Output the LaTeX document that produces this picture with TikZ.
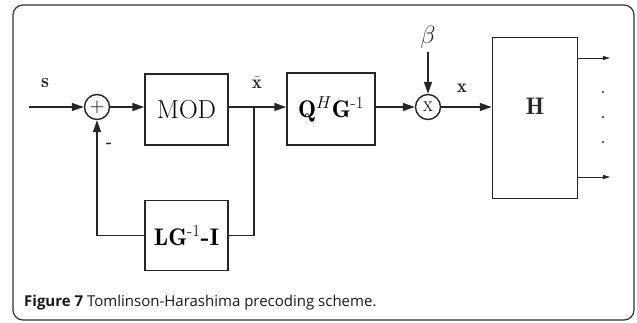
\documentclass[tikz,border=0pt]{standalone}
\usepackage{amsmath}
\usepackage{fontspec}
\newfontfamily\capfont{Open Sans}
\usetikzlibrary{arrows.meta}
\tikzset{
  blk/.style={draw=black!85, line width=1.5pt, rectangle, inner sep=0pt},
  junc/.style={draw=black!85, line width=1.4pt, circle, inner sep=0pt, minimum size=25pt},
  sig/.style={line width=1.5pt, draw=black!85, -{Triangle[length=12pt,width=8pt]}},
  wire/.style={line width=1.5pt, draw=black!85},
  outarr/.style={line width=0.8pt, draw=black!85, -{Triangle[length=7pt,width=4pt]}},
  lbl/.style={inner sep=0pt, text=black!85},
}
\begin{document}
\begin{tikzpicture}[x=1pt,y=-1pt]
\useasboundingbox (0,0) rectangle (637,323);
\draw[line width=1.2pt, draw=black!80, rounded corners=10pt] (13,5) rectangle (634,320);

% blocks
\node[blk, minimum width=83pt, minimum height=71pt] (mod) at (186.5,109.5) {\fontsize{26}{30}\selectfont MOD};
\node[blk, minimum width=88pt, minimum height=72pt] (q) at (331,109) {\fontsize{24}{28}\selectfont$\mathbf{Q}^{H}\mathbf{G}^{\text{-1}}$};
\node[blk, minimum width=83pt, minimum height=70pt] (lg) at (186.5,235.7) {\fontsize{24}{28}\selectfont$\mathbf{L}\mathbf{G}^{\text{-1}}\text{\bfseries -}\mathbf{I}$};
\node[blk, minimum width=85pt, minimum height=161pt] (H) at (535,118) {};
\node[lbl] (hl) at (535,106) {\fontsize{24}{28}\selectfont$\mathbf{H}$};

% junctions
\node[junc] (sum) at (97,107) {\fontsize{20}{24}\selectfont$+$};
\node[junc] (mult) at (428,107) {\fontsize{14}{16}\selectfont X};

% coordinates
\coordinate (in) at (29,107);
\coordinate (j) at (254,107);
\coordinate (o1) at (610,58);
\coordinate (o2) at (610,177);

% labels
\node[lbl] (s) at (45,83) {\fontsize{20}{22}\selectfont$\mathbf{s}$};
\node[lbl] (xt) at (257,82) {\fontsize{19}{21}\selectfont$\tilde{\mathbf{x}}$};
\node[lbl] (minus) at (109,145) {\fontsize{16}{18}\selectfont\bfseries -};
\node[lbl] (xl) at (462,88) {\fontsize{19}{21}\selectfont$\mathbf{x}$};
\node[lbl] (beta) at (428,37) {\fontsize{24}{28}\selectfont$\beta$};

% connectors
\draw[sig] (in) -- (sum.west);
\draw[sig] (sum.east) -- (sum -| mod.west);
\draw[wire] (mod.east |- sum) -- (j);
\draw[sig] (j) -- (j -| q.west);
\draw[sig] (q.east |- mult) -- (mult.west);
\draw[sig] (beta.south) ++(0,4) -- (mult.north);
\draw[sig] (mult.east) -- (mult -| H.west);
\draw[wire] (j) |- (lg.east);
\draw[sig] (lg.west) -| (sum.south);
\draw[outarr] (H.east |- o1) -- (o1);
\draw[outarr] (H.east |- o2) -- (o2);

% dots
\fill[black!85] (603,92) circle (1.1pt);
\fill[black!85] (603,117) circle (1.1pt);
\fill[black!85] (603,142) circle (1.1pt);

% caption
\node[anchor=base west, inner sep=0pt, text=black!90] (cap) at (24,306)
  {\capfont\fontsize{15}{18}\selectfont\bfseries Figure 7\mdseries{} Tomlinson-Harashima precoding scheme.};
\end{tikzpicture}
\end{document}
